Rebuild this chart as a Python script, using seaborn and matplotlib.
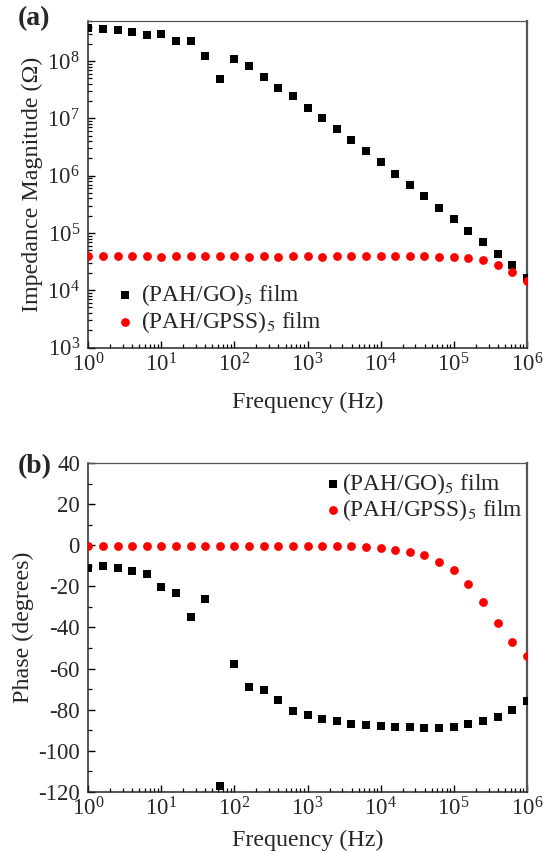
import matplotlib
matplotlib.use('Agg')
import matplotlib.pyplot as plt
import matplotlib.ticker as mticker
import seaborn as sns
import pandas as pd

# frequency points (Hz), 5 per decade
freq = [1, 1.585, 2.512, 3.981, 6.310,
        10, 15.85, 25.12, 39.81, 63.10,
        100, 158.5, 251.2, 398.1, 631.0,
        1e3, 1.585e3, 2.512e3, 3.981e3, 6.310e3,
        1e4, 1.585e4, 2.512e4, 3.981e4, 6.310e4,
        1e5, 1.585e5, 2.512e5, 3.981e5, 6.310e5,
        1e6]

# impedance magnitude (ohm)
mag_go = [3.81e8, 3.66e8, 3.43e8, 3.25e8, 2.88e8,
          3.00e8, 2.23e8, 2.26e8, 1.21e8, 4.85e7,
          1.10e8, 8.30e7, 5.26e7, 3.34e7, 2.48e7,
          1.53e7, 1.03e7, 6.50e6, 4.19e6, 2.69e6,
          1.71e6, 1.08e6, 6.90e5, 4.36e5, 2.78e5,
          1.76e5, 1.10e5, 6.85e4, 4.34e4, 2.71e4,
          1.63e4]
mag_gpss = [3.94e4, 3.92e4, 3.94e4, 3.92e4, 3.94e4,
            3.88e4, 3.90e4, 3.90e4, 3.90e4, 3.90e4,
            3.90e4, 3.88e4, 3.90e4, 3.88e4, 3.90e4,
            3.90e4, 3.88e4, 3.90e4, 3.92e4, 3.92e4,
            3.92e4, 3.90e4, 3.90e4, 3.90e4, 3.88e4,
            3.85e4, 3.69e4, 3.36e4, 2.78e4, 2.12e4,
            1.46e4]

# phase (degrees)
ph_go = [-11.0, -9.8, -11.0, -12.6, -13.8,
         -20.3, -23.3, -34.9, -25.9, -117.2,
         -57.6, -69.1, -70.6, -75.1, -80.5,
         -82.4, -84.4, -85.5, -86.8, -87.3,
         -88.1, -88.3, -88.5, -88.8, -88.8,
         -88.3, -87.0, -85.7, -83.4, -80.3,
         -75.6]
ph_gpss = [-0.1, -0.2, -0.2, -0.2, -0.2,
           -0.2, -0.2, -0.2, -0.2, -0.2,
           -0.2, -0.2, -0.2, -0.2, -0.2,
           -0.2, -0.2, -0.3, -0.5, -0.8,
           -1.3, -2.0, -3.1, -4.8, -7.9,
           -12.0, -18.7, -27.4, -37.9, -47.3,
           -53.8]

labels = ['(PAH/GO)$_5$ film', '(PAH/GPSS)$_5$ film']

df = pd.DataFrame({'freq': freq, 'mag_go': mag_go, 'mag_gpss': mag_gpss,
                   'ph_go': ph_go, 'ph_gpss': ph_gpss})

sns.set_style('ticks')
plt.rcParams['font.family'] = ['Liberation Serif', 'DejaVu Serif']
plt.rcParams['mathtext.fontset'] = 'stix'
plt.rcParams['axes.unicode_minus'] = False
plt.rcParams['xtick.direction'] = 'in'
plt.rcParams['ytick.direction'] = 'in'

fig = plt.figure(figsize=(5.44, 8.52), dpi=100)
ax1 = fig.add_axes([0.1623, 0.5921, 0.8060, 0.3832])
ax2 = fig.add_axes([0.1623, 0.0708, 0.8060, 0.3854])


def style_axes(ax, xpad):
    ax.spines['left'].set_linewidth(1.1)
    ax.spines['bottom'].set_linewidth(1.1)
    ax.spines['top'].set_color('#555555')
    ax.spines['top'].set_linewidth(0.9)
    ax.spines['right'].set_color('#555555')
    ax.spines['right'].set_linewidth(1.6)
    ax.tick_params(which='major', length=5, width=1.0, top=False, right=False, color='black')
    ax.tick_params(which='minor', length=2.6, width=0.9, top=False, right=False, color='black')
    ax.tick_params(axis='y', labelsize=16.5, pad=6)
    ax.tick_params(axis='x', labelsize=16.5, pad=4)
    ax.set_xscale('log')
    ax.set_xlim(1, 1e6)
    ax.xaxis.set_major_locator(mticker.LogLocator(base=10, numticks=10))
    ax.xaxis.set_minor_locator(mticker.LogLocator(base=10, subs=range(2, 10), numticks=20))
    ax.xaxis.set_minor_formatter(mticker.NullFormatter())
    ax.set_xlabel('Frequency (Hz)', fontsize=17.3, labelpad=xpad)


# (a) impedance magnitude
sns.scatterplot(data=df, x='freq', y='mag_go', ax=ax1, marker='s', s=30,
                color='black', linewidth=0, label=labels[0], zorder=3)
sns.scatterplot(data=df, x='freq', y='mag_gpss', ax=ax1, marker='o', s=40,
                color='#ff0000', linewidth=0, label=labels[1], zorder=4)
style_axes(ax1, 11)
ax1.set_yscale('log')
ax1.set_ylim(1e3, 5e8)
ax1.yaxis.set_major_locator(mticker.LogLocator(base=10, numticks=10))
ax1.yaxis.set_minor_locator(mticker.LogLocator(base=10, subs=range(2, 10), numticks=20))
ax1.yaxis.set_minor_formatter(mticker.NullFormatter())
ax1.set_ylabel('Impedance Magnitude (\u03a9)', fontsize=17.3, labelpad=3)
ax1.legend(loc='lower left', bbox_to_anchor=(0.026, -0.013), frameon=False,
           fontsize=16.8, handletextpad=0.25, labelspacing=0.08, borderpad=0.2,
           handlelength=0.8)

# (b) phase
sns.scatterplot(data=df, x='freq', y='ph_go', ax=ax2, marker='s', s=30,
                color='black', linewidth=0, label=labels[0], zorder=3)
sns.scatterplot(data=df, x='freq', y='ph_gpss', ax=ax2, marker='o', s=40,
                color='#ff0000', linewidth=0, label=labels[1], zorder=4)
style_axes(ax2, 7)
ax2.set_ylim(-120, 40)
ax2.yaxis.set_major_locator(mticker.MultipleLocator(20))
ax2.yaxis.set_minor_locator(mticker.MultipleLocator(10))
ax2.set_ylabel('Phase (degrees)', fontsize=17.3, labelpad=3)
ax2.legend(loc='upper right', bbox_to_anchor=(1.029, 1.027), frameon=False,
           fontsize=16.8, handletextpad=0.05, labelspacing=0.03, borderpad=0.2,
           handlelength=0.7)

fig.text(0.032, 0.978, '(a)', fontsize=20, fontweight='bold', va='center', ha='left')
fig.text(0.032, 0.452, '(b)', fontsize=20, fontweight='bold', va='center', ha='left')

fig.savefig('out.png', dpi=100)
